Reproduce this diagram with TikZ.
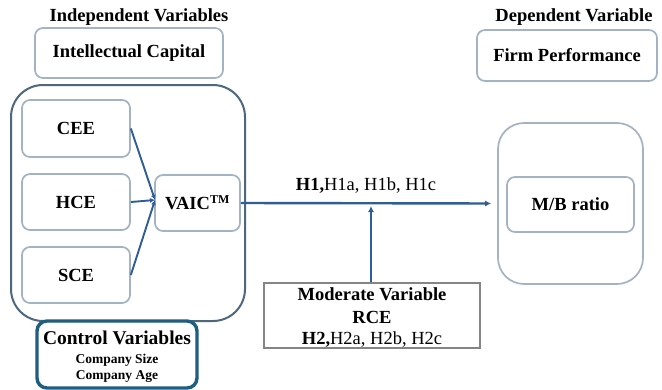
\documentclass[tikz,border=0pt]{standalone}
\usepackage{fontspec}
\setmainfont{Liberation Serif}
\usetikzlibrary{arrows.meta}
\definecolor{conn}{HTML}{2F5D96}
\definecolor{lightbox}{HTML}{A3B3C4}
\definecolor{bigbox}{HTML}{4D677D}
\definecolor{ctrlbox}{HTML}{1F5E80}
\definecolor{modbox}{HTML}{858585}
\tikzset{
  txt/.style={font=\bfseries\fontsize{18.5}{20}\selectfont, inner sep=0pt},
  softbox/.style={draw=lightbox, line width=1.7pt, rounded corners=8pt, fill=white},
  conline/.style={draw=conn, line width=2.4pt, -{Latex[length=6pt,width=6pt]}},
  inline/.style={draw=conn, line width=1.9pt, -{Latex[length=5pt,width=5pt]}},
}
\begin{document}
\begin{tikzpicture}[x=1pt,y=-1pt]
\useasboundingbox[fill=white] (0,0) rectangle (662,389);
% titles
\node[txt] (t1) at (139,17) {Independent Variables};
\node[txt] (t2) at (574,17) {Dependent Variable};
% top boxes
\node[softbox, minimum width=188pt, minimum height=50pt] (ic) at (129,53) {};
\node[txt] at (ic) {Intellectual Capital};
\node[softbox, minimum width=180pt, minimum height=51pt] (fp) at (567,55.5) {};
\node[txt] at (fp) {Firm Performance};
% big container
\node[draw=bigbox, line width=2pt, rounded corners=32pt, minimum width=234pt, minimum height=236pt] (big) at (128,203) {};
\node[softbox, minimum width=108pt, minimum height=57pt] (cee) at (76,128.5) {};
\node[txt] at (cee) {CEE};
\node[softbox, minimum width=108pt, minimum height=56pt] (hce) at (76,202) {};
\node[txt] at (hce) {HCE};
\node[softbox, minimum width=108pt, minimum height=56pt] (sce) at (76,275) {};
\node[txt] at (sce) {SCE};
\node[softbox, minimum width=85pt, minimum height=56pt] (vaic) at (197.5,203) {};
\node[txt] at (vaic) {VAIC\textsuperscript{\fontsize{12}{12}\selectfont TM}};
% dependent
\node[draw=lightbox, line width=1.7pt, rounded corners=26pt, minimum width=145pt, minimum height=161pt] (mbo) at (570.5,203.5) {};
\node[softbox, minimum width=127pt, minimum height=55pt] (mbi) at (570.5,204.5) {};
\node[txt] at (mbi) {M/B ratio};
% moderator
\node[draw=modbox, line width=1.5pt, minimum width=216pt, minimum height=65pt] (mod) at (372,315.5) {};
\node[txt] (m1) at (372,294) {Moderate Variable};
\node[txt] (m2) at (372,317) {RCE};
\node[txt] (m3) at (372,340) {H2,\mdseries H2a, H2b, H2c};
% control
\node[draw=ctrlbox, line width=3.4pt, rounded corners=10pt, minimum width=160pt, minimum height=67pt] (ctrl) at (117,354.5) {};
\node[font=\bfseries\fontsize{19.5}{20}\selectfont, inner sep=0pt] (c1) at (117,338) {Control Variables};
\node[font=\bfseries\fontsize{13.5}{14}\selectfont, inner sep=0pt] (c2) at (117,360) {Company Size};
\node[font=\bfseries\fontsize{13.5}{14}\selectfont, inner sep=0pt] (c3) at (117,377) {Company Age};
% label
\node[txt] (h1) at (366,186) {H1,\mdseries H1a, H1b, H1c};
% connectors
\coordinate (vin) at (155,200);
\draw[inline] (cee.east) -- (vin);
\draw[inline] (hce.east) -- (vin);
\draw[inline] (sce.east) -- (vin);
\draw[conline, shorten >=6pt] (vaic.east) -- (mbo.west);
\coordinate (j) at (371,206);
\draw[conline] (mod.north -| j) -- (j);
\end{tikzpicture}
\end{document}
